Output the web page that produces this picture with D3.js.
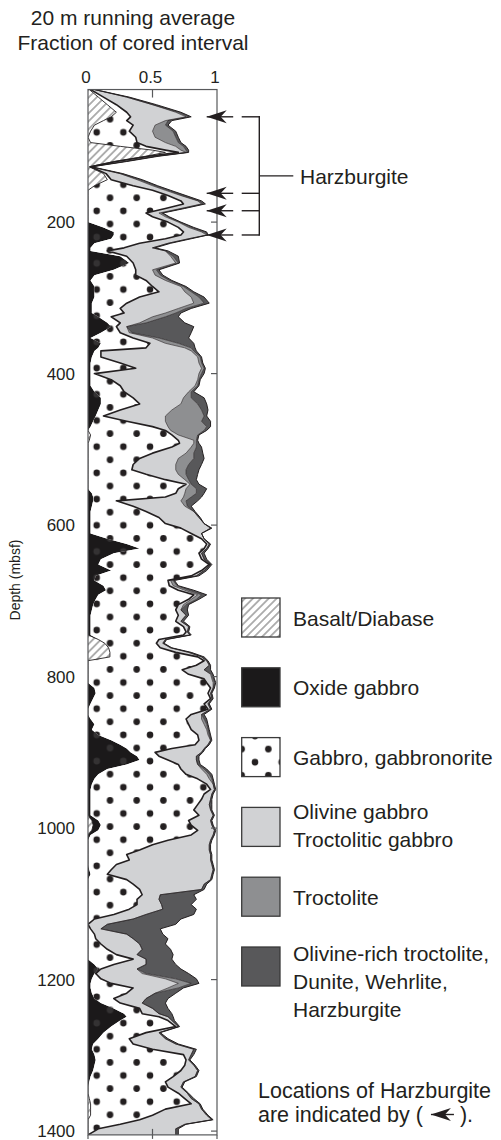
<!DOCTYPE html>
<html>
<head>
<meta charset="utf-8">
<script src="https://cdn.jsdelivr.net/npm/d3@7"></script>
<style>
  body { margin: 0; background: #fff; }
  svg { display: block; }
  text { font-family: "Liberation Sans", Arial, sans-serif; fill: #231f20; }
</style>
</head>
<body>
<svg id="chart" width="501" height="1140"></svg>
<script>
// ---- data: 20 m running average, fraction of cored interval per lithology ----
const lithologyKeys = ["basalt", "oxide", "gabbro", "olivineGabbro", "troctolite", "olivineRich"];
const legendLabels = [
  ["Basalt/Diabase"],
  ["Oxide gabbro"],
  ["Gabbro, gabbronorite"],
  ["Olivine gabbro", "Troctolitic gabbro"],
  ["Troctolite"],
  ["Olivine-rich troctolite,", "Dunite, Wehrlite,", "Harzburgite"]
];
const depthTicks = [200, 400, 600, 800, 1000, 1200, 1400];
const fractionTicks = [0, 0.5, 1];
const fractionTickLabels = ["0", "0.5", "1"];
const harzburgiteDepths = [61, 162, 185, 217];

const depth = [
  25,35,45,55,61,66,72,80,88,95,
  100,105,108,113,120,127,136,144,152,158,
  165,172,176,182,188,193,200,207,213,217,
  222,228,234,238,245,254,263,270,277,285,
  292,299,307,314,320,325,333,338,346,353,
  360,366,370,378,386,393,400,408,416,424,
  432,440,448,456,463,470,475,481,488,492,
  497,505,512,520,527,533,540,546,552,558,
  563,568,575,582,590,598,604,611,618,625,
  631,637,645,652,660,667,673,680,686,692,
  698,705,712,719,727,734,741,745,751,756,
  762,768,774,779,785,791,797,803,808,815,
  822,829,836,843,850,856,863,870,877,884,
  890,895,900,905,910,916,922,929,935,942,
  949,955,962,969,976,983,990,996,1003,1009,
  1016,1022,1029,1035,1042,1048,1055,1061,1068,1074,
  1081,1088,1094,1101,1107,1114,1120,1127,1133,1140,
  1146,1153,1160,1167,1173,1180,1186,1192,1199,1205,
  1211,1218,1225,1231,1238,1245,1249,1254,1262,1270,
  1278,1285,1292,1299,1306,1313,1320,1328,1335,1342,
  1350,1357,1364,1371,1379,1385,1391,1397,1405
];

const basalt = [
  .01,.08,.15,.22,.18,.12,.05,.02,0,.02,
  .25,.5,.6,.45,.2,.01,.12,.15,.05,0,
  0,0,0,0,0,0,0,0,0,0,
  0,0,0,0,0,0,0,0,0,0,
  0,0,0,0,0,0,0,0,0,0,
  0,0,0,0,0,0,0,0,0,0,
  0,0,0,0,0,0,0,.02,.01,0,
  0,0,0,0,0,0,0,0,0,0,
  0,0,0,0,0,0,0,0,0,0,
  0,0,0,0,0,0,0,0,0,0,
  0,0,0,0,0,0,0,0,.08,.13,
  .16,.17,.17,0,0,0,0,0,0,0,
  0,0,0,0,0,0,0,0,0,0,
  0,0,0,0,0,0,0,0,0,0,
  0,0,0,0,0,0,.03,.04,.03,0,
  0,0,0,0,0,0,0,0,0,0,
  0,0,0,0,0,0,0,0,0,0,
  0,0,0,0,0,0,0,0,0,0,
  0,0,0,0,0,0,0,0,0,0,
  0,0,0,0,0,0,0,0,0,0,
  0,.01,.02,.02,.02,0,0,0,0
];

const oxide = [
  0,0,0,0,0,0,0,0,0,0,
  0,0,0,0,0,0,0,0,0,0,
  0,0,0,0,0,0,0,.12,.2,.2,
  .18,.05,.02,.02,.25,.32,.2,.05,.02,.05,
  .05,.05,.03,.03,.03,.08,.15,.18,.1,.02,
  .1,.08,.05,.03,.02,.02,.02,.02,.02,.05,
  .1,.1,.08,.06,.04,.02,0,0,0,0,
  0,0,0,0,0,0,0,0,0,.03,
  .04,.04,.03,.02,.02,.02,.02,.02,.15,.3,
  .4,.2,.1,.08,.18,.06,.05,.12,.14,.08,
  .06,.04,.03,.02,.02,.02,.02,.02,0,0,
  0,0,0,0,0,0,0,0,0,.05,
  .06,.04,.02,0,0,.02,.05,.03,.08,.18,
  .25,.3,.33,.38,.4,.3,.15,.08,.05,.03,
  .02,.02,.02,.02,.02,.02,.05,.06,.05,.02,
  0,0,0,0,0,0,.01,.02,0,0,
  0,0,0,0,0,0,0,0,0,0,
  0,0,0,0,0,.05,.08,.05,.03,.02,
  .02,.03,.05,.1,.2,.28,.3,.25,.18,.12,
  .08,.04,.03,.05,.06,.05,.04,.02,.01,0,
  0,0,0,0,0,0,0,0,0
];

const gabbro = [
  .01,.04,.07,.08,.15,.18,.30,.30,.37,.36,
  .20,.1,.1,.02,.02,.01,.02,.03,.30,.5,
  .62,.72,.74,.6,.45,.5,.62,.58,.54,.52,
  .42,.35,.26,.13,.05,.03,.17,.32,.43,.45,
  .5,.35,.27,.22,.25,.1,.1,.04,.15,.33,
  .38,.37,.05,.07,.23,.35,.03,.16,.23,.23,
  .25,.3,.17,.06,.26,.48,.6,.63,.69,.71,
  .65,.5,.4,.35,.34,.45,.6,.76,.7,.65,
  .56,.18,.32,.43,.53,.58,.7,.78,.73,.62,
  .5,.66,.78,.86,.7,.74,.57,.51,.56,.74,
  .72,.66,.65,.68,.66,.72,.74,.72,.47,.4,
  .4,.51,.68,.9,.84,.73,.78,.9,.92,.9,
  .87,.91,.88,.93,.8,.74,.73,.77,.77,.68,
  .58,.35,.19,.17,.22,.4,.57,.68,.8,.89,
  .93,.88,.86,.83,.8,.84,.7,.7,.77,.78,
  .62,.5,.4,.3,.32,.22,.17,.13,.3,.35,
  .4,.42,.38,.38,.32,.2,.05,0,.02,.05,
  .06,.1,.15,.22,.35,.15,.02,.01,.07,.16,
  .33,.27,.15,.15,.2,.14,.25,.37,.5,.33,
  .24,.31,.47,.69,.7,.7,.68,.64,.59,.62,
  .7,.74,.78,.58,.48,.4,.25,.08,0
];

const olivineGabbro = [
  .03,.18,.28,.38,.43,.30,.17,.18,.15,.22,
  .23,.12,.06,.05,.06,0,.11,.20,.15,.1,
  .10,.13,.14,.12,.10,.1,.08,.08,.14,.2,
  .18,.22,.22,.45,.34,.33,.13,.15,.15,.22,
  .2,.4,.52,.45,.32,.32,.15,.08,.07,.15,
  .12,.3,.7,.75,.61,.51,.81,.67,.58,.5,
  .39,.32,.4,.48,.3,.12,.04,.05,.12,.11,
  .15,.26,.3,.33,.34,.25,.15,.03,.06,.07,
  .14,.5,.4,.37,.31,.3,.23,.08,.02,.02,
  .02,.02,.02,.01,.02,.04,.02,.03,.05,.03,
  .02,.04,.04,.06,.04,.04,.01,.05,.05,.05,
  .08,.1,.03,.02,.1,.17,.17,.06,.05,.02,
  .02,.01,.03,.02,.08,.12,.12,.12,.08,.09,
  .1,.25,.36,.29,.22,.15,.16,.16,.09,.05,
  .03,.06,.07,.09,.13,.11,.17,.16,.13,.17,
  .33,.44,.54,.65,.63,.74,.79,.81,.65,.55,
  .48,.14,.17,.19,.26,.25,.3,.15,.08,.25,
  .29,.3,.27,.16,.1,.25,.28,.36,.5,.52,
  .27,.22,.25,.17,.1,.13,.07,.03,.02,.1,
  .28,.33,.32,.06,.02,.07,.13,.17,.14,.1,
  .07,.05,.06,.28,.42,.56,.5,.6,.68
];

const troctolite = [
  0,0,0,.02,.02,.02,.08,.16,.16,.10,
  .06,.04,.01,.01,0,0,0,.02,.02,.02,
  .01,.01,.01,.01,.02,.02,.01,.02,.02,.01,
  0,0,0,0,.02,.02,.03,.04,.03,.02,
  .05,.06,.08,.06,.08,.1,.05,0,.02,.05,
  .1,.05,.02,.02,.02,.02,.02,.01,.02,.02,
  .06,.13,.23,.3,.28,.3,.26,.15,.02,.02,
  .04,.06,.12,.1,.08,.06,.03,.01,.08,.09,
  .06,.04,.02,0,0,0,0,0,0,0,
  0,0,0,0,0,0,.02,.03,.03,.03,
  .04,.02,0,0,0,0,0,0,0,0,
  0,0,0,0,0,0,.01,.01,.01,0,
  0,0,0,0,0,.02,.02,.01,.01,0,
  0,0,0,0,0,0,.02,.02,.02,0,
  0,0,0,0,0,0,0,0,0,0,
  0,0,0,0,0,0,0,0,0,0,
  0,0,0,0,0,0,0,0,0,0,
  0,0,0,0,0,0,0,.03,.08,.1,
  .08,0,0,0,0,0,0,0,0,0,
  0,0,0,0,0,0,0,0,0,0,
  0,0,0,0,0,0,0,0,0
];

const olivineRich = [
  0,.02,.03,.02,.02,.03,.02,.02,.02,.02,
  .02,.02,.01,.02,.02,.01,.02,.02,.02,.02,
  .03,.02,.02,.02,.01,.01,.01,.02,.02,0,
  .02,.02,.02,.02,.04,.01,.02,.02,.02,.02,
  .02,.04,.04,.04,.04,.1,.3,.52,.46,.23,
  .12,.03,.02,.01,.01,.01,.02,.01,.01,.02,
  .1,.07,.05,.02,.07,.03,.02,.01,.01,.02,
  .04,.07,.08,.1,.1,.09,.06,.06,.08,.06,
  .08,.09,.03,.01,.01,0,.01,0,0,.01,
  .01,.02,.02,.01,.02,.02,.01,.01,.04,.04,
  .02,.02,.05,.02,.02,.01,.01,.01,.01,.01,
  .01,.02,.02,.01,.01,.05,.01,.01,.01,.01,
  .01,.01,.01,.01,.02,.02,.01,.01,.01,.01,
  .01,.01,.01,.02,.02,.02,.02,.02,.01,.01,
  .01,.01,.01,.02,.01,.01,.01,.01,.01,.01,
  .01,.01,.01,.01,.01,.01,.01,.01,.01,.02,
  .02,.26,.29,.23,.26,.37,.37,.53,.46,.28,
  .27,.2,.22,.28,.2,.23,.34,.33,.16,.06,
  .04,.16,.17,.18,.12,.1,.04,.02,.01,.01,
  .02,.02,.02,.02,.01,.01,.01,.01,.01,.01,
  .01,.02,.01,.01,.01,.01,.01,.02,.02
];

(function draw() {
  const svg = d3.select("#chart");
  const depthDomain = [25, 1405];
  const x = d3.scaleLinear().domain([0, 1]).range([88, 217]);
  const y = d3.scaleLinear().domain([0, 1400]).range([70.6, 1131.1]);
  const ink = "#231f20";

  const rows = depth.map((d, i) => ({
    depth: d,
    basalt: basalt[i],
    oxide: oxide[i],
    gabbro: gabbro[i],
    olivineGabbro: olivineGabbro[i],
    troctolite: troctolite[i],
    olivineRich: olivineRich[i]
  }));
  const stacked = d3.stack().keys(lithologyKeys)(rows);

  // ---- fill patterns ----
  const defs = svg.append("defs");
  const DOT_DX = 26.67, DOT_DY = 26.2, DOT_R = 3.3;
  function dotPattern(id, ox, oy, bg, fg) {
    const p = defs.append("pattern").attr("id", id)
      .attr("patternUnits", "userSpaceOnUse")
      .attr("x", ox).attr("y", oy)
      .attr("width", DOT_DX).attr("height", DOT_DY);
    p.append("rect").attr("width", DOT_DX).attr("height", DOT_DY).attr("fill", bg);
    [[0, 0], [DOT_DX, 0], [0, DOT_DY], [DOT_DX, DOT_DY], [DOT_DX / 2, DOT_DY / 2]]
      .forEach(([cx, cy]) => p.append("circle")
        .attr("cx", cx).attr("cy", cy).attr("r", DOT_R).attr("fill", fg));
  }
  dotPattern("dots", 96.7, 446.7, "#ffffff", "#231f20");
  dotPattern("oxideDots", 96.7, 446.7, "#1b191a", "#343233");
  dotPattern("dotsKey", 255, 736, "#ffffff", "#231f20");

  const hatch = defs.append("pattern").attr("id", "hatch")
    .attr("patternUnits", "userSpaceOnUse")
    .attr("width", 5.6).attr("height", 5.6)
    .attr("patternTransform", "rotate(45)");
  hatch.append("rect").attr("width", 5.6).attr("height", 5.6).attr("fill", "#ffffff");
  hatch.append("line").attr("x1", 2.8).attr("x2", 2.8).attr("y1", 0).attr("y2", 5.6)
    .attr("stroke", "#3c3c3c").attr("stroke-width", 0.8);

  const fills = ["url(#hatch)", "url(#oxideDots)", "url(#dots)", "#d1d2d4", "#8e8f91", "#58585a"];
  const keyFills = ["url(#hatch)", "#1b191a", "url(#dotsKey)", "#d1d2d4", "#8e8f91", "#58585a"];

  const plotTop = y(depthDomain[0]), plotBottom = y(depthDomain[1]);
  defs.append("clipPath").attr("id", "plotClip").append("rect")
    .attr("x", x(0)).attr("y", plotTop)
    .attr("width", x(1) - x(0)).attr("height", plotBottom - plotTop);

  // ---- stacked areas ----
  const area = d3.area()
    .y(d => y(d.data.depth))
    .x0(d => x(d[0]))
    .x1(d => x(d[1]));

  const plot = svg.append("g").attr("clip-path", "url(#plotClip)");
  plot.selectAll("path.layer")
    .data(stacked)
    .join("path")
    .attr("class", "layer")
    .attr("d", area)
    .attr("fill", (d, i) => fills[i]);

  // boundary lines between lithologies
  const edge = d3.line().y(d => y(d.data.depth)).x(d => x(d[1]));
  [[0, 0.9], [3, 0.6], [4, 0.6], [5, 1.0], [2, 1.6]].forEach(([i, w]) => {
    plot.append("path")
      .attr("d", edge(stacked[i]))
      .attr("fill", "none")
      .attr("stroke", ink)
      .attr("stroke-width", w)
      .attr("stroke-linejoin", "round");
  });

  // ---- frame and ticks ----
  svg.append("rect")
    .attr("x", x(0)).attr("y", plotTop)
    .attr("width", x(1) - x(0)).attr("height", plotBottom - plotTop)
    .attr("fill", "none").attr("stroke", "#58595b").attr("stroke-width", 1.2);

  const tickStroke = g => g.attr("stroke", "#58595b").attr("stroke-width", 1.2);
  svg.append("line").attr("x1", x(0.5)).attr("x2", x(0.5)).attr("y1", plotTop).attr("y2", plotTop + 8).call(tickStroke);
  svg.append("line").attr("x1", x(0.5)).attr("x2", x(0.5)).attr("y1", plotBottom).attr("y2", plotBottom - 6).call(tickStroke);
  fractionTicks.forEach(v => {
    svg.append("line").attr("x1", x(v)).attr("x2", x(v)).attr("y1", plotBottom).attr("y2", plotBottom + 4).call(tickStroke);
  });
  depthTicks.forEach(d => {
    svg.append("line").attr("x1", x(1) - 6).attr("x2", x(1)).attr("y1", y(d)).attr("y2", y(d)).call(tickStroke);
  });

  // tick labels
  svg.append("g").selectAll("text")
    .data(fractionTicks)
    .join("text")
    .attr("x", d => x(d) - 2)
    .attr("y", 83)
    .attr("text-anchor", "middle")
    .attr("font-size", 17)
    .text((d, i) => fractionTickLabels[i]);

  svg.append("g").selectAll("text")
    .data(depthTicks)
    .join("text")
    .attr("x", 75)
    .attr("y", d => y(d))
    .attr("dy", "0.36em")
    .attr("text-anchor", "end")
    .attr("font-size", 17)
    .text(d => d);

  // titles
  svg.append("text").attr("x", 133).attr("y", 25).attr("text-anchor", "middle")
    .attr("font-size", 21).text("20 m running average");
  svg.append("text").attr("x", 133).attr("y", 50).attr("text-anchor", "middle")
    .attr("font-size", 21).text("Fraction of cored interval");
  svg.append("text")
    .attr("transform", "translate(20,580) rotate(-90)")
    .attr("text-anchor", "middle")
    .attr("font-size", 14)
    .text("Depth (mbsf)");

  // ---- harzburgite arrows ----
  function arrow(g, tipX, yy, len) {
    g.append("line").attr("x1", tipX).attr("x2", tipX + len).attr("y1", yy).attr("y2", yy)
      .attr("stroke", ink).attr("stroke-width", 1.4);
    g.append("path")
      .attr("d", `M${tipX},${yy}L${tipX + 20},${yy - 6.5}L${tipX + 14},${yy}L${tipX + 20},${yy + 6.5}Z`)
      .attr("fill", ink);
  }
  const ann = svg.append("g");
  const tipX = x(1) - 10.3;
  const bracketX = 259.3;
  harzburgiteDepths.forEach(d => {
    arrow(ann, tipX, y(d), 26.5);
    ann.append("line").attr("x1", 241.7).attr("x2", bracketX).attr("y1", y(d)).attr("y2", y(d))
      .attr("stroke", ink).attr("stroke-width", 1.4);
  });
  const yFirst = y(harzburgiteDepths[0]);
  const yLast = y(harzburgiteDepths[harzburgiteDepths.length - 1]);
  ann.append("line").attr("x1", bracketX).attr("x2", bracketX).attr("y1", yFirst - 0.7).attr("y2", yLast + 0.7)
    .attr("stroke", ink).attr("stroke-width", 1.4);
  const yMid = (yFirst + yLast) / 2;
  ann.append("line").attr("x1", bracketX).attr("x2", 293.3).attr("y1", yMid).attr("y2", yMid)
    .attr("stroke", ink).attr("stroke-width", 1.4);
  ann.append("text").attr("x", 300).attr("y", yMid + 8).attr("font-size", 21).text("Harzburgite");

  // ---- legend ----
  const legend = svg.append("g");
  const keyX = 241.7, keyW = 38.3, keyH = 39, keyTop = 598, keyStep = 69.8;
  legendLabels.forEach((lines, i) => {
    const ty = keyTop + i * keyStep;
    legend.append("rect")
      .attr("x", keyX).attr("y", ty).attr("width", keyW).attr("height", keyH)
      .attr("fill", keyFills[i]).attr("stroke", "#3a3a3a").attr("stroke-width", 1.3);
    const first = lines.length === 1 ? ty + keyH / 2 + 8 : ty + (lines.length === 2 ? 12 : 14);
    lines.forEach((s, j) => {
      legend.append("text").attr("x", 293).attr("y", first + j * 28)
        .attr("font-size", 21).text(s);
    });
  });

  const noteX = 258;
  legend.append("text").attr("x", noteX).attr("y", 1098).attr("font-size", 21.5).text("Locations of Harzburgite");
  const noteA = legend.append("text").attr("x", noteX).attr("y", 1122).attr("font-size", 21.5).text("are indicated by (");
  const wA = noteA.node().getComputedTextLength();
  arrow(legend, noteX + wA + 8, 1114.5, 23);
  legend.append("text").attr("x", noteX + wA + 37).attr("y", 1122).attr("font-size", 21.5).text(").");
})();
</script>
</body>
</html>
